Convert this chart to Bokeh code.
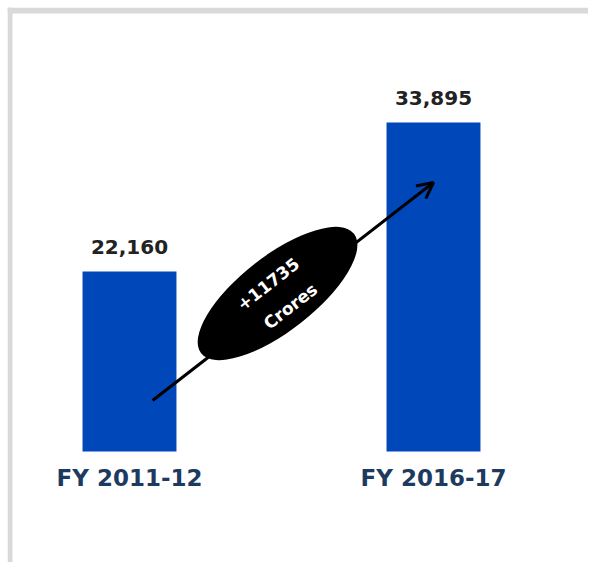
import math
from bokeh.plotting import figure
from bokeh.models import ColumnDataSource, Range1d, Span, Arrow, OpenHead
from bokeh.core.properties import value
from bokeh.embed import file_html
from bokeh.resources import INLINE

# ---- data ----
categories = ["FY 2011-12", "FY 2016-17"]
values = [22160, 33895]
value_labels = [f"{v:,}" for v in values]
change = values[1] - values[0]
change_lines = [f"+{change}", "Crores"]

# ---- layout constants ----
BASE = 7984
X0, X1 = -0.4013, 1.5099
Y0, Y1 = -758, 42953
BAR_COLOR = "#0047ba"
NAVY = "#1e3a5f"
FONT = value("DejaVu Sans")

p = figure(width=588, height=562, output_backend="svg", toolbar_location=None,
           x_range=Range1d(X0, X1), y_range=Range1d(Y0, Y1),
           x_axis_location=None, y_axis_location=None,
           min_border_left=7, min_border_top=7, min_border_right=0, min_border_bottom=0)
p.grid.visible = False
p.outline_line_color = None
p.background_fill_color = "white"
p.border_fill_color = "white"

xs = list(range(len(categories)))
src = ColumnDataSource(dict(x=xs, top=values, label=value_labels, cat=categories))

p.vbar(x="x", top="top", bottom=BASE, width=0.309, source=src,
       fill_color=BAR_COLOR, line_color=None)

p.text(x="x", y="top", text="label", source=src, text_align="center",
       text_baseline="middle", y_offset=-25, text_font=FONT,
       text_font_style="bold", text_font_size="20px", text_color="#222222")

p.text(x="x", y=BASE, text="cat", source=src, text_align="center",
       text_baseline="middle", y_offset=26, text_font=FONT,
       text_font_style="bold", text_font_size="23px", text_color=NAVY)

# growth arrow from first bar to second
p.add_layout(Arrow(end=OpenHead(size=16, line_width=3, line_color="black"),
                   x_start=0.076, y_start=12000, x_end=1.0, y_end=29170,
                   line_width=3, line_color="black"))

ang = math.radians(38)
p.ellipse(x=[0.487], y=[20428], width=194, height=75,
          width_units="screen", height_units="screen", angle=ang,
          fill_color="black", line_color=None, level="overlay")

p.text(x=[0.455, 0.5296], y=[21192, 19428], text=change_lines, angle=ang,
       text_align="center", text_baseline="middle", text_font=FONT,
       text_font_style="bold", text_font_size="17px", text_color="white",
       level="overlay")

# frame borders (top & left)
p.add_layout(Span(location=42717, dimension="width", line_color="#d9d9d9", line_width=6))
p.add_layout(Span(location=-0.3931, dimension="height", line_color="#d9d9d9", line_width=5))

open("out.html", "w").write(file_html(p, INLINE, title="chart"))
